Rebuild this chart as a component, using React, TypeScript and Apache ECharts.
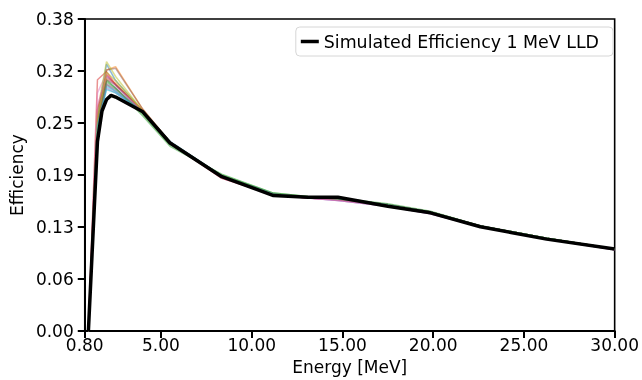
import React, { useEffect, useRef } from "react";
import * as echarts from "echarts";

const energies = [1.0, 1.5, 2.0, 2.5, 4.0, 5.5, 8.35, 11.2, 13.1, 14.75, 17.5, 19.85, 22.6, 26.25, 30.0];
const blackEnergies = [1.0, 1.5, 1.75, 2.0, 2.25, 2.5, 4.0, 5.5, 8.35, 11.2, 13.1, 14.75, 17.5, 19.85, 22.6, 26.25, 30.0];
const simulatedEff = [0, 0.231, 0.268, 0.282, 0.287, 0.285, 0.267, 0.229, 0.188, 0.165, 0.163, 0.163, 0.152, 0.144, 0.127, 0.112, 0.1];

const run01 = [0, 0.262, 0.325, 0.305, 0.268, 0.231, 0.189, 0.167, 0.163, 0.161, 0.154, 0.145, 0.128, 0.113, 0.1];
const run02 = [0, 0.255, 0.318, 0.322, 0.27, 0.23, 0.187, 0.167, 0.163, 0.161, 0.154, 0.145, 0.128, 0.113, 0.1];
const run03 = [0, 0.248, 0.306, 0.296, 0.262, 0.225, 0.191, 0.168, 0.164, 0.162, 0.155, 0.146, 0.128, 0.113, 0.1];
const run04 = [0, 0.306, 0.316, 0.3, 0.268, 0.229, 0.186, 0.166, 0.162, 0.16, 0.153, 0.144, 0.127, 0.112, 0.1];
const run05 = [0, 0.25, 0.3, 0.292, 0.266, 0.23, 0.188, 0.166, 0.162, 0.159, 0.152, 0.143, 0.127, 0.112, 0.099];
const run06 = [0, 0.258, 0.318, 0.32, 0.27, 0.23, 0.188, 0.167, 0.163, 0.161, 0.154, 0.145, 0.128, 0.113, 0.1];
const run07 = [0, 0.29, 0.314, 0.3, 0.268, 0.23, 0.188, 0.167, 0.162, 0.16, 0.153, 0.144, 0.127, 0.112, 0.099];
const run08 = [0, 0.25, 0.302, 0.295, 0.267, 0.23, 0.189, 0.167, 0.163, 0.161, 0.154, 0.145, 0.128, 0.113, 0.1];
const run09 = [0, 0.268, 0.328, 0.31, 0.268, 0.23, 0.189, 0.167, 0.163, 0.161, 0.154, 0.145, 0.128, 0.113, 0.1];
const run10 = [0, 0.25, 0.298, 0.292, 0.267, 0.23, 0.189, 0.167, 0.163, 0.161, 0.154, 0.145, 0.128, 0.113, 0.1];
const run11 = [0, 0.255, 0.31, 0.3, 0.267, 0.23, 0.189, 0.167, 0.163, 0.161, 0.154, 0.145, 0.128, 0.113, 0.1];
const run12 = [0, 0.252, 0.308, 0.302, 0.268, 0.229, 0.187, 0.166, 0.163, 0.161, 0.154, 0.145, 0.128, 0.113, 0.1];
const run13 = [0, 0.25, 0.304, 0.296, 0.264, 0.227, 0.19, 0.168, 0.164, 0.161, 0.154, 0.145, 0.128, 0.113, 0.1];
const run14 = [0, 0.27, 0.312, 0.3, 0.268, 0.23, 0.187, 0.166, 0.162, 0.16, 0.153, 0.144, 0.127, 0.112, 0.1];
const run15 = [0, 0.25, 0.296, 0.29, 0.266, 0.23, 0.188, 0.166, 0.162, 0.159, 0.152, 0.143, 0.127, 0.112, 0.099];
const run16 = [0, 0.255, 0.306, 0.3, 0.268, 0.23, 0.188, 0.167, 0.163, 0.16, 0.153, 0.144, 0.127, 0.112, 0.1];
const run17 = [0, 0.275, 0.31, 0.298, 0.268, 0.23, 0.186, 0.166, 0.162, 0.159, 0.152, 0.143, 0.127, 0.112, 0.099];
const run18 = [0, 0.25, 0.3, 0.294, 0.267, 0.23, 0.189, 0.167, 0.163, 0.161, 0.154, 0.145, 0.128, 0.113, 0.1];
const run19 = [0, 0.258, 0.315, 0.305, 0.268, 0.23, 0.189, 0.167, 0.163, 0.161, 0.154, 0.145, 0.128, 0.113, 0.1];
const run20 = [0, 0.25, 0.294, 0.29, 0.267, 0.23, 0.189, 0.167, 0.163, 0.161, 0.154, 0.145, 0.128, 0.113, 0.1];

const runs = [run01, run02, run03, run04, run05, run06, run07, run08, run09, run10,
  run11, run12, run13, run14, run15, run16, run17, run18, run19, run20];

const palette = ["#1f77b4", "#ff7f0e", "#2ca02c", "#d62728", "#9467bd", "#8c564b", "#e377c2", "#7f7f7f", "#bcbd22", "#17becf"];

const xTicks = [0.8, 5, 10, 15, 20, 25, 30];
const yMax = 0.38;
const legendLabel = "Simulated Efficiency 1 MeV LLD";

const FONT = "DejaVu Sans";

export default function App() {
  const ref = useRef<HTMLDivElement>(null);
  useEffect(() => {
    if (!ref.current) return;
    const chart = echarts.init(ref.current, null, { renderer: "svg" });
    const runSeries = runs.map((r, i) => ({
      type: "line",
      name: "run" + (i + 1),
      data: energies.map((e, j) => [e, r[j]]),
      showSymbol: false,
      symbol: "none",
      lineStyle: { color: palette[i % palette.length], width: 1.5, opacity: 0.5 },
      z: 2,
    }));
    chart.setOption({
      animation: false,
      grid: { left: 82, right: 27, top: 19, bottom: 48, show: true, borderColor: "#000", borderWidth: 1.6, backgroundColor: "transparent" },
      legend: {
        data: [legendLabel],
        right: 29,
        top: 27,
        icon: "rect",
        itemWidth: 18,
        itemHeight: 3.5,
        padding: [6, 14, 6, 5],
        borderColor: "#d6d6d6",
        borderWidth: 1,
        borderRadius: 4,
        backgroundColor: "rgba(255,255,255,0.8)",
        textStyle: { fontFamily: FONT, fontSize: 17.4, color: "#000" },
      },
      xAxis: {
        type: "value",
        min: 0.8,
        max: 30,
        name: "Energy [MeV]",
        nameLocation: "middle",
        nameGap: 22,
        nameTextStyle: { fontFamily: FONT, fontSize: 17, color: "#000" },
        axisLine: { show: true, lineStyle: { color: "#000", width: 2 } },
        axisTick: { show: true, length: 7, lineStyle: { color: "#000", width: 2 }, customValues: xTicks },
        axisLabel: {
          fontFamily: FONT, fontSize: 17, color: "#000", margin: 5,
          customValues: xTicks,
          formatter: (v: number) => v.toFixed(2),
        },
        splitLine: { show: false },
      },
      yAxis: {
        type: "value",
        min: 0,
        max: yMax,
        interval: yMax / 6,
        name: "Efficiency",
        nameLocation: "middle",
        nameGap: 54,
        nameTextStyle: { fontFamily: FONT, fontSize: 17, color: "#000" },
        axisLine: { show: true, lineStyle: { color: "#000", width: 2 } },
        axisTick: { show: true, length: 7, lineStyle: { color: "#000", width: 2 } },
        axisLabel: {
          fontFamily: FONT, fontSize: 17, color: "#000", margin: 11,
          showMaxLabel: true,
          formatter: (v: number) => v.toFixed(2),
        },
        splitLine: { show: false },
      },
      series: [
        ...runSeries,
        {
          type: "line",
          name: legendLabel,
          data: blackEnergies.map((e, j) => [e, simulatedEff[j]]),
          showSymbol: false,
          symbol: "none",
          itemStyle: { color: "#000" },
          lineStyle: { color: "#000", width: 3.5 },
          z: 5,
        },
      ],
    });
    return () => chart.dispose();
  }, []);
  return <div ref={ref} style={{ position: "fixed", left: 0, top: 0, width: 642, height: 380 }} />;
}
